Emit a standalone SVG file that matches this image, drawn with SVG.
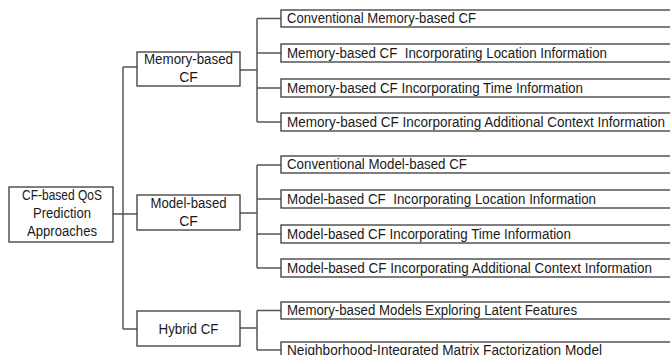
<svg xmlns="http://www.w3.org/2000/svg" width="670" height="355" viewBox="0 0 670 355">
<style>
.box{fill:#fff;stroke:#3a3a3a;stroke-width:1.3}
.c{fill:none;stroke:#555;stroke-width:1.5}
text{font-family:"Liberation Sans",Arial,sans-serif;font-size:14px;fill:#1a1a1a}
.m{text-anchor:middle}
</style>
<rect width="670" height="355" fill="#fff"/>
<g id="connectors">
<path class="c" d="M113 214H137M123 67V329M123 67H137M123 329H137"/>
<path class="c" d="M240 70H257M257 18.5V122M257 18.5H281M257 53H281M257 88H281M257 122H281"/>
<path class="c" d="M240 213H257M257 165V268M257 165H281M257 199H281M257 234H281M257 268H281"/>
<path class="c" d="M240 328H257M257 310.5V350M257 310.5H281M257 350H281"/>
</g>
<g id="root"><rect class="box" x="9" y="187" width="104" height="55"/>
<text class="m" x="62" y="199.5" textLength="80" lengthAdjust="spacingAndGlyphs">CF-based QoS</text>
<text class="m" x="62" y="217.5" textLength="58" lengthAdjust="spacingAndGlyphs">Prediction</text>
<text class="m" x="62" y="235.5" textLength="70" lengthAdjust="spacingAndGlyphs">Approaches</text></g>
<g id="memory"><rect class="box" x="137" y="52" width="103" height="34"/>
<text class="m" x="188.5" y="63.5" textLength="89" lengthAdjust="spacingAndGlyphs">Memory-based</text>
<text class="m" x="188.5" y="81.5">CF</text></g>
<g id="model"><rect class="box" x="137" y="195" width="103" height="35"/>
<text class="m" x="188.5" y="208" textLength="76" lengthAdjust="spacingAndGlyphs">Model-based</text>
<text class="m" x="188.5" y="226">CF</text></g>
<g id="hybrid"><rect class="box" x="137" y="311" width="103" height="35"/>
<text class="m" x="188.5" y="333.5" textLength="60" lengthAdjust="spacingAndGlyphs">Hybrid CF</text></g>
<g id="l1"><rect class="box" x="281" y="10" width="400" height="17"/><text x="287" y="23" textLength="189" lengthAdjust="spacingAndGlyphs">Conventional Memory-based CF</text></g>
<g id="l2"><rect class="box" x="281" y="44" width="400" height="18"/><text x="287" y="57.5" textLength="320" lengthAdjust="spacingAndGlyphs" xml:space="preserve">Memory-based CF  Incorporating Location Information</text></g>
<g id="l3"><rect class="box" x="281" y="79" width="400" height="18"/><text x="287" y="92.5" textLength="296" lengthAdjust="spacingAndGlyphs">Memory-based CF Incorporating Time Information</text></g>
<g id="l4"><rect class="box" x="281" y="113" width="400" height="18"/><text x="287" y="126.5" textLength="378" lengthAdjust="spacingAndGlyphs">Memory-based CF Incorporating Additional Context Information</text></g>
<g id="l5"><rect class="box" x="281" y="156" width="400" height="17"/><text x="287" y="169" textLength="180" lengthAdjust="spacingAndGlyphs">Conventional Model-based CF</text></g>
<g id="l6"><rect class="box" x="281" y="190" width="400" height="18"/><text x="287" y="203.5" textLength="309" lengthAdjust="spacingAndGlyphs" xml:space="preserve">Model-based CF  Incorporating Location Information</text></g>
<g id="l7"><rect class="box" x="281" y="225" width="400" height="18"/><text x="287" y="238.5" textLength="284" lengthAdjust="spacingAndGlyphs">Model-based CF Incorporating Time Information</text></g>
<g id="l8"><rect class="box" x="281" y="259" width="400" height="18"/><text x="287" y="272.5" textLength="365" lengthAdjust="spacingAndGlyphs">Model-based CF Incorporating Additional Context Information</text></g>
<g id="l9"><rect class="box" x="281" y="302" width="400" height="17"/><text x="287" y="315" textLength="290" lengthAdjust="spacingAndGlyphs">Memory-based Models Exploring Latent Features</text></g>
<g id="l10"><rect class="box" x="281" y="342" width="400" height="18"/><text x="287" y="354.5" textLength="315" lengthAdjust="spacingAndGlyphs">Neighborhood-Integrated Matrix Factorization Model</text></g>
</svg>
